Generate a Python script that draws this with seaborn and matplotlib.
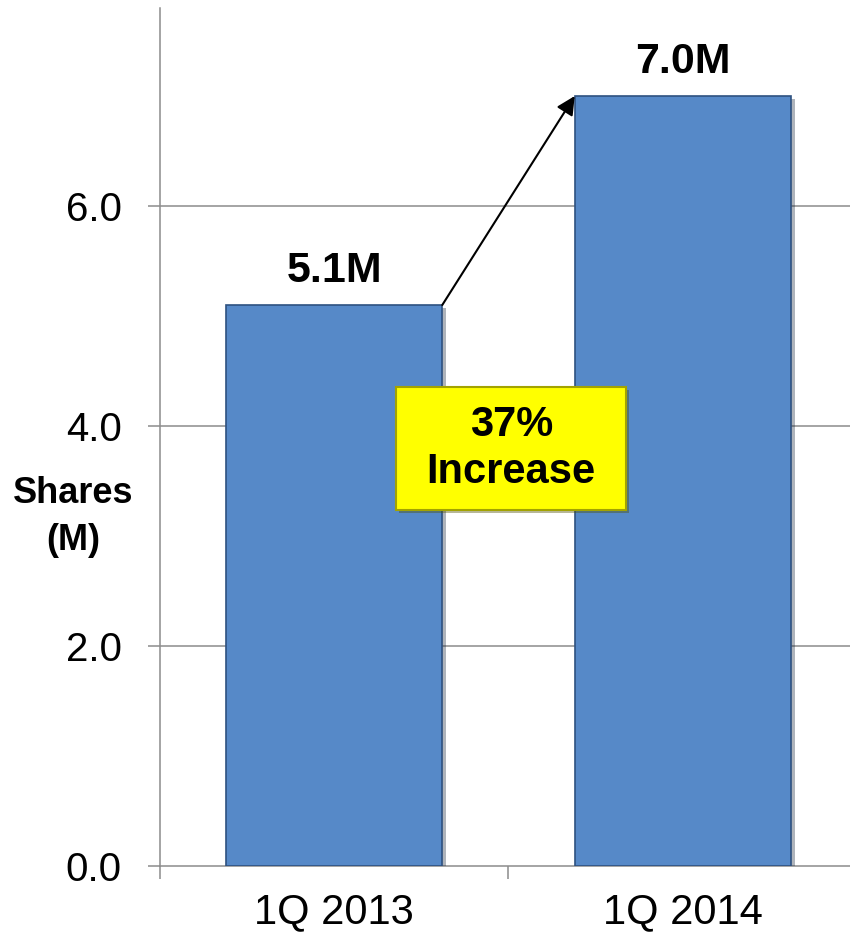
import matplotlib
matplotlib.use("Agg")
import matplotlib.pyplot as plt
import matplotlib.patheffects as pe
from matplotlib.patches import Rectangle
from matplotlib.ticker import FixedLocator
import seaborn as sns
import pandas as pd

# ---- data ----
categories = ["1Q 2013", "1Q 2014"]
shares_m = [5.1, 7.0]
bar_labels = ["5.1M", "7.0M"]
y_ticks = [0.0, 2.0, 4.0, 6.0]
y_label = "Shares\n(M)"
callout = "37%\nIncrease"

df = pd.DataFrame({"quarter": categories, "shares": shares_m})

sns.set_theme(style="white")
plt.rcParams["font.family"] = ["Liberation Sans", "DejaVu Sans"]

fig = plt.figure(figsize=(8.5, 9.36), dpi=100)
ax = fig.add_axes([160 / 850, 1 - 866 / 936, 690 / 850, 858 / 936])

sns.barplot(data=df, x="quarter", y="shares", color="#5689C8", width=0.62,
            saturation=1, ax=ax, zorder=3)

for p in ax.patches:
    p.set_edgecolor("#2E5180")
    p.set_linewidth(1.2)
    p.set_path_effects([pe.SimplePatchShadow(offset=(3, -2), alpha=0.35),
                        pe.Normal()])

ax.set_xlim(-0.5, 1.48)
ax.set_ylim(0, 7.8)

# grid and spines
ax.set_yticks(y_ticks)
ax.set_yticklabels([f"{v:.1f}" for v in y_ticks])
for v in y_ticks[1:]:
    ax.axhline(v, color="#8C8C8C", lw=1.1, zorder=1)
for s in ["top", "right"]:
    ax.spines[s].set_visible(False)
for s in ["left", "bottom"]:
    ax.spines[s].set_color("#8C8C8C")
    ax.spines[s].set_linewidth(1.1)

ax.tick_params(axis="y", which="major", length=8.6, width=1.1, color="#8C8C8C",
               pad=19, labelsize=29, labelcolor="black", left=True)
ax.tick_params(axis="x", which="major", length=0, pad=19, labelsize=30,
               labelcolor="black")
ax.xaxis.set_minor_locator(FixedLocator([-0.5, 0.5, 1.5]))
ax.tick_params(axis="x", which="minor", length=9.5, width=1.1, color="#8C8C8C",
               bottom=True)
ax.set_xlabel("")
ax.set_ylabel(y_label, rotation=0, fontsize=26, fontweight="bold", color="black",
              ha="center", va="center", linespacing=1.45)
ax.yaxis.set_label_coords(-0.126, 0.407)

# value labels
for p, lab in zip(ax.patches, bar_labels):
    ax.annotate(lab, (p.get_x() + p.get_width() / 2, p.get_height()),
                xytext=(0, 10), textcoords="offset points", ha="center",
                va="bottom", fontsize=31, fontweight="bold", color="black")

# arrow between bars
p0, p1 = ax.patches[0], ax.patches[1]
ax.annotate("", xy=(p1.get_x(), p1.get_height()),
            xytext=(p0.get_x() + p0.get_width(), p0.get_height()),
            arrowprops=dict(arrowstyle="-|>", color="black", lw=1.5,
                            mutation_scale=28, shrinkA=0, shrinkB=0),
            zorder=5)

# callout box
bx0, bx1, by0, by1 = 0.178, 0.838, 3.236, 4.355
ax.add_patch(Rectangle((bx0, by0), bx1 - bx0, by1 - by0, facecolor="#FFFF00",
                       edgecolor="#A3A300", lw=1.5, zorder=6,
                       path_effects=[pe.SimplePatchShadow(offset=(2, -2), alpha=0.4),
                                     pe.Normal()]))
ax.text((bx0 + bx1) / 2, (by0 + by1) / 2, callout, ha="center", va="center",
        fontsize=30, fontweight="bold", color="black", linespacing=1.25,
        zorder=7)

fig.savefig("out.png", dpi=100)
